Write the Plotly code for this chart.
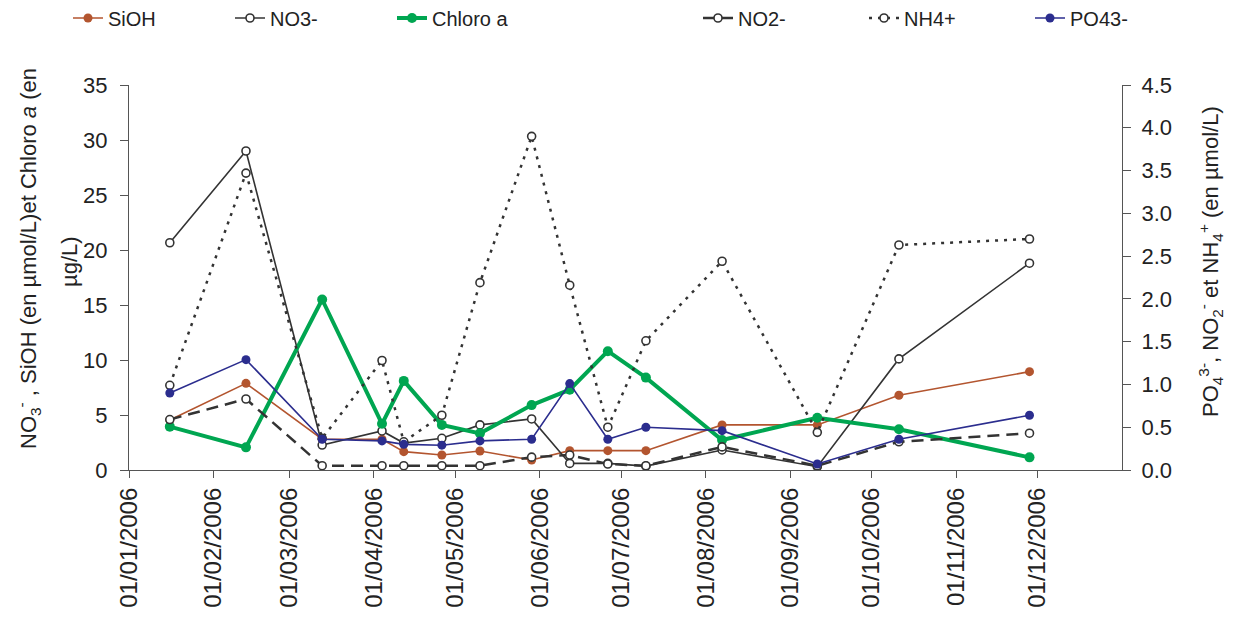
import plotly.graph_objects as go

dates = ["2006-01-16", "2006-02-13", "2006-03-13", "2006-04-04", "2006-04-12",
         "2006-04-26", "2006-05-10", "2006-05-29", "2006-06-12", "2006-06-26",
         "2006-07-10", "2006-08-07", "2006-09-11", "2006-10-11", "2006-11-28"]

sioh = [4.55, 7.88, 2.8, 2.8, 1.67, 1.36, 1.73, 0.91, 1.76, 1.76, 1.76, 4.1, 4.1, 6.8, 8.94]
no3 = [20.66, 29.0, 2.27, 3.55, 2.45, 2.88, 4.1, 4.64, 0.6, 0.6, 0.35, 1.82, 0.3, 10.1, 18.8]
chloro = [3.94, 2.06, 15.5, 4.2, 8.1, 4.1, 3.33, 5.9, 7.3, 10.8, 8.4, 2.73, 4.75, 3.7, 1.15]
no2 = [0.59, 0.83, 0.05, 0.05, 0.05, 0.05, 0.05, 0.15, 0.175, 0.07, 0.05, 0.27, 0.05, 0.33, 0.43]
nh4 = [0.99, 3.47, 0.37, 1.28, 0.33, 0.64, 2.19, 3.90, 2.16, 0.50, 1.51, 2.44, 0.44, 2.63, 2.70]
po4 = [0.90, 1.29, 0.36, 0.34, 0.30, 0.29, 0.34, 0.36, 1.01, 0.36, 0.50, 0.46, 0.07, 0.36, 0.64]

tick_dates = ["2006-%02d-01" % m for m in range(1, 13)]
tick_text = ["01/%02d/2006" % m for m in range(1, 13)]

FONT = "Liberation Sans, Arial, Helvetica, sans-serif"
BROWN = "#B3552F"
NAVY = "#2B2D8E"
GREEN = "#00A651"
DARK = "#333333"
AXC = "#555555"

open_marker = dict(symbol="circle", size=8, color="white", line=dict(color=DARK, width=1.6))

fig = go.Figure()
fig.add_trace(go.Scatter(x=dates, y=sioh, name="SiOH", mode="lines+markers",
                         line=dict(color=BROWN, width=1.6),
                         marker=dict(size=9, color=BROWN), legend="legend"))
fig.add_trace(go.Scatter(x=dates, y=no3, name="NO3-", mode="lines+markers",
                         line=dict(color=DARK, width=1.6),
                         marker=open_marker, legend="legend"))
fig.add_trace(go.Scatter(x=dates, y=chloro, name="Chloro a", mode="lines+markers",
                         line=dict(color=GREEN, width=4),
                         marker=dict(size=10, color=GREEN), legend="legend"))
fig.add_trace(go.Scatter(x=dates, y=no2, name="NO2-", mode="lines+markers", yaxis="y2",
                         line=dict(color=DARK, width=2.5, dash="12px,7px"),
                         marker=open_marker, legend="legend2"))
fig.add_trace(go.Scatter(x=dates, y=nh4, name="NH4+", mode="lines+markers", yaxis="y2",
                         line=dict(color=DARK, width=2.5, dash="3px,6px"),
                         marker=open_marker, legend="legend2"))
fig.add_trace(go.Scatter(x=dates, y=po4, name="PO43-", mode="lines+markers", yaxis="y2",
                         line=dict(color=NAVY, width=1.6),
                         marker=dict(size=9, color=NAVY), legend="legend2"))

# page body has an 8px margin: figure is laid out in its own coordinates
OFF = 8
W, H = 1250 - OFF, 621 - OFF
L, R, T, B = 129 - OFF, 128, 85 - OFF, 151
pw = W - L - R
ph = H - T - B

def px_x(px):
    return (px - OFF - L) / pw

def px_y(py):
    return (H - B - (py - OFF)) / ph

fig.update_layout(
    width=W, height=H,
    margin=dict(l=L, r=R, t=T, b=B, autoexpand=False),
    paper_bgcolor="white", plot_bgcolor="white",
    font=dict(family=FONT, size=20, color="#222222"),
    xaxis=dict(type="date", range=["2006-01-01", "2007-01-01"],
               tickvals=tick_dates, ticktext=tick_text, tickangle=-90,
               ticks="outside", ticklen=7, tickcolor=AXC,
               showline=True, linecolor=AXC, linewidth=1.2,
               showgrid=False, zeroline=False,
               tickfont=dict(size=24)),
    yaxis=dict(range=[0, 35], dtick=5, ticks="outside", ticklen=8, tickcolor=AXC,
               showline=True, linecolor=AXC, linewidth=1.2, showgrid=False,
               zeroline=False, tickfont=dict(size=22), ticklabelstandoff=8),
    yaxis2=dict(range=[0, 4.5], dtick=0.5, tickformat=".1f", overlaying="y", side="right",
                ticks="outside", ticklen=8, tickcolor=AXC,
                showline=True, linecolor=AXC, linewidth=1.2, showgrid=False,
                zeroline=False, tickfont=dict(size=22), ticklabelstandoff=6),
    yaxis3=dict(range=[0, 35], dtick=5, overlaying="y", side="left",
                ticks="inside", ticklen=8, tickcolor=AXC, showticklabels=False,
                showline=False, showgrid=False, zeroline=False),
    yaxis4=dict(range=[0, 4.5], dtick=0.5, overlaying="y", side="right",
                ticks="inside", ticklen=8, tickcolor=AXC, showticklabels=False,
                showline=False, showgrid=False, zeroline=False),
    legend=dict(orientation="h", xref="container", yref="container",
                x=60 / W, y=1 - 10 / H, xanchor="left", yanchor="middle",
                entrywidth=117, entrywidthmode="pixels",
                font=dict(size=20), bgcolor="rgba(0,0,0,0)"),
    legend2=dict(orientation="h", xref="container", yref="container",
                 x=690 / W, y=1 - 10 / H, xanchor="left", yanchor="middle",
                 entrywidth=121, entrywidthmode="pixels",
                 font=dict(size=20), bgcolor="rgba(0,0,0,0)"),
    showlegend=True,
)

fig.add_annotation(text="NO<sub>3</sub><sup>-</sup> , SiOH (en µmol/L)et Chloro <i>a</i> (en",
                   xref="paper", yref="paper", x=px_x(28), y=px_y(259),
                   xanchor="center", yanchor="middle", textangle=-90, showarrow=False,
                   font=dict(size=22))
fig.add_annotation(text="µg/L)",
                   xref="paper", yref="paper", x=px_x(69), y=px_y(262),
                   xanchor="center", yanchor="middle", textangle=-90, showarrow=False,
                   font=dict(size=22))
fig.add_annotation(text="PO<sub>4</sub><sup>3-</sup>, NO<sub>2</sub><sup>-</sup> et NH<sub>4</sub><sup>+</sup> (en µmol/L)",
                   xref="paper", yref="paper", x=px_x(1210), y=px_y(262),
                   xanchor="center", yanchor="middle", textangle=-90, showarrow=False,
                   font=dict(size=22))

fig.write_html("out.html")
